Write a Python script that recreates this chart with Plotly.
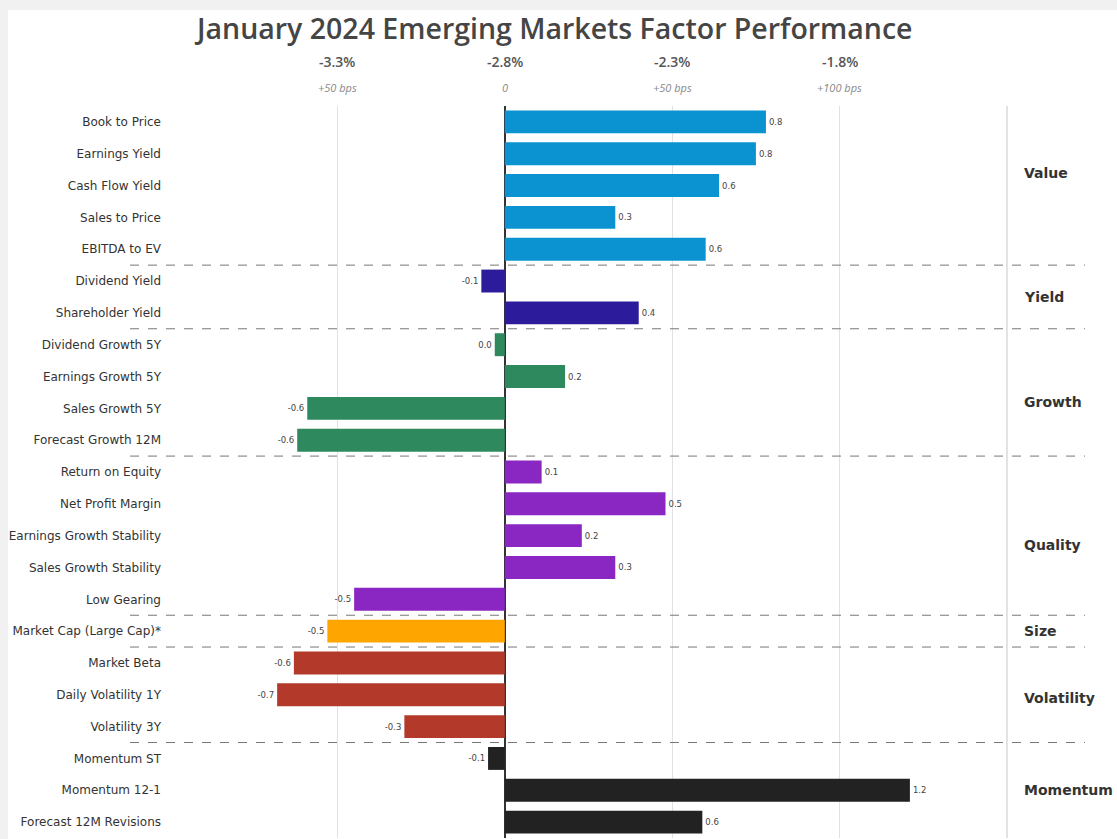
import plotly.graph_objects as go

# ---- data ----
factors = [
    "Book to Price", "Earnings Yield", "Cash Flow Yield", "Sales to Price", "EBITDA to EV",
    "Dividend Yield", "Shareholder Yield",
    "Dividend Growth 5Y", "Earnings Growth 5Y", "Sales Growth 5Y", "Forecast Growth 12M",
    "Return on Equity", "Net Profit Margin", "Earnings Growth Stability", "Sales Growth Stability", "Low Gearing",
    "Market Cap (Large Cap)*",
    "Market Beta", "Daily Volatility 1Y", "Volatility 3Y",
    "Momentum ST", "Momentum 12-1", "Forecast 12M Revisions",
]
values = [
    0.78, 0.75, 0.64, 0.33, 0.60,
    -0.07, 0.40,
    -0.03, 0.18, -0.59, -0.62,
    0.11, 0.48, 0.23, 0.33, -0.45,
    -0.53,
    -0.63, -0.68, -0.30,
    -0.05, 1.21, 0.59,
]
value_labels = [
    "0.8", "0.8", "0.6", "0.3", "0.6",
    "-0.1", "0.4",
    "0.0", "0.2", "-0.6", "-0.6",
    "0.1", "0.5", "0.2", "0.3", "-0.5",
    "-0.5",
    "-0.6", "-0.7", "-0.3",
    "-0.1", "1.2", "0.6",
]
groups = ["Value", "Yield", "Growth", "Quality", "Size", "Volatility", "Momentum"]
group_sizes = [5, 2, 4, 5, 1, 3, 3]
group_colors = ["#0a93d0", "#2c1c9c", "#2e8a5e", "#8a26c2", "#ffa500", "#b33a2b", "#222222"]
group_label_pos = [1.6, 5.5, 8.8, 13.3, 16.0, 18.1, 21.0]

tick_vals = [-0.5, 0, 0.5, 1.0]
pct_labels = ["-3.3%", "-2.8%", "-2.3%", "-1.8%"]
bps_labels = ["+50 bps", "0", "+50 bps", "+100 bps"]

title = "January 2024 Emerging Markets Factor Performance"

# ---- build ----
bar_colors = []
for g, n in enumerate(group_sizes):
    bar_colors += [group_colors[g]] * n

L, R, T, B = 170, 110, 106, 1
W, H = 1117, 839
pw, ph = W - L - R, H - T - B

def px(p):
    return (p - L) / pw

def py(q):
    return (H - B - q) / ph

fig = go.Figure()
fig.add_trace(go.Bar(
    x=values, y=factors, orientation="h",
    marker=dict(color=bar_colors, line=dict(width=0)),
    width=0.72,
    text=value_labels, textposition="outside",
    textfont=dict(size=8.5, color="#444", family="DejaVu Sans"),
    cliponaxis=False, hoverinfo="skip",
))

shapes = []
# white panel
shapes.append(dict(type="rect", xref="paper", yref="paper",
                   x0=px(8), x1=px(W + 5), y0=py(H + 5), y1=py(10),
                   fillcolor="white", line=dict(width=0), layer="below"))
# right edge line
shapes.append(dict(type="line", xref="paper", yref="paper",
                   x0=1, x1=1, y0=0, y1=1, line=dict(color="#d0d0d0", width=1.2)))
# group separators
cum = 0
for n in group_sizes[:-1]:
    cum += n
    shapes.append(dict(type="line", xref="paper", yref="y",
                       x0=px(130), x1=px(1085), y0=cum - 0.5, y1=cum - 0.5,
                       line=dict(color="#777", width=1, dash="dash")))

annotations = [dict(text=title, xref="paper", yref="paper", x=px(553), y=py(28),
                    xanchor="center", yanchor="middle", showarrow=False,
                    font=dict(size=28.5, color="#454545", family="Open Sans", weight=600))]
for tv, p, b in zip(tick_vals, pct_labels, bps_labels):
    annotations.append(dict(text=p, xref="x", yref="paper", x=tv, y=py(62),
                            xanchor="center", yanchor="middle", showarrow=False,
                            font=dict(size=14, color="#555", family="Open Sans", weight=600)))
    annotations.append(dict(text="<i>" + b + "</i>", xref="x", yref="paper", x=tv, y=py(87),
                            xanchor="center", yanchor="middle", showarrow=False,
                            font=dict(size=11, color="#888", family="Open Sans")))
for g, yp in zip(groups, group_label_pos):
    annotations.append(dict(text="<b>" + g + "</b>", xref="paper", yref="y", x=px(1022), y=yp,
                            xanchor="left", yanchor="middle", showarrow=False,
                            font=dict(size=14, color="#333", family="DejaVu Sans")))

fig.update_layout(
    width=W, height=H,
    margin=dict(l=L, r=R, t=T, b=B),
    paper_bgcolor="#f1f1f1", plot_bgcolor="white",
    showlegend=False,
    bargap=0.28,
    shapes=shapes, annotations=annotations,
    xaxis=dict(range=[-1.0, 1.5], tickvals=tick_vals, showticklabels=False,
               showgrid=True, gridcolor="#e2e2e2", gridwidth=1,
               zeroline=True, zerolinecolor="#333", zerolinewidth=1.5,
               fixedrange=True, showline=False),
    yaxis=dict(categoryorder="array", categoryarray=factors, autorange="reversed",
               tickfont=dict(size=12, color="#333", family="DejaVu Sans"),
               ticks="", ticklabelstandoff=8, showgrid=False, fixedrange=True),
)

fig.write_html("out.html", config={"displayModeBar": False},
               post_script="document.body.style.margin='0';")
